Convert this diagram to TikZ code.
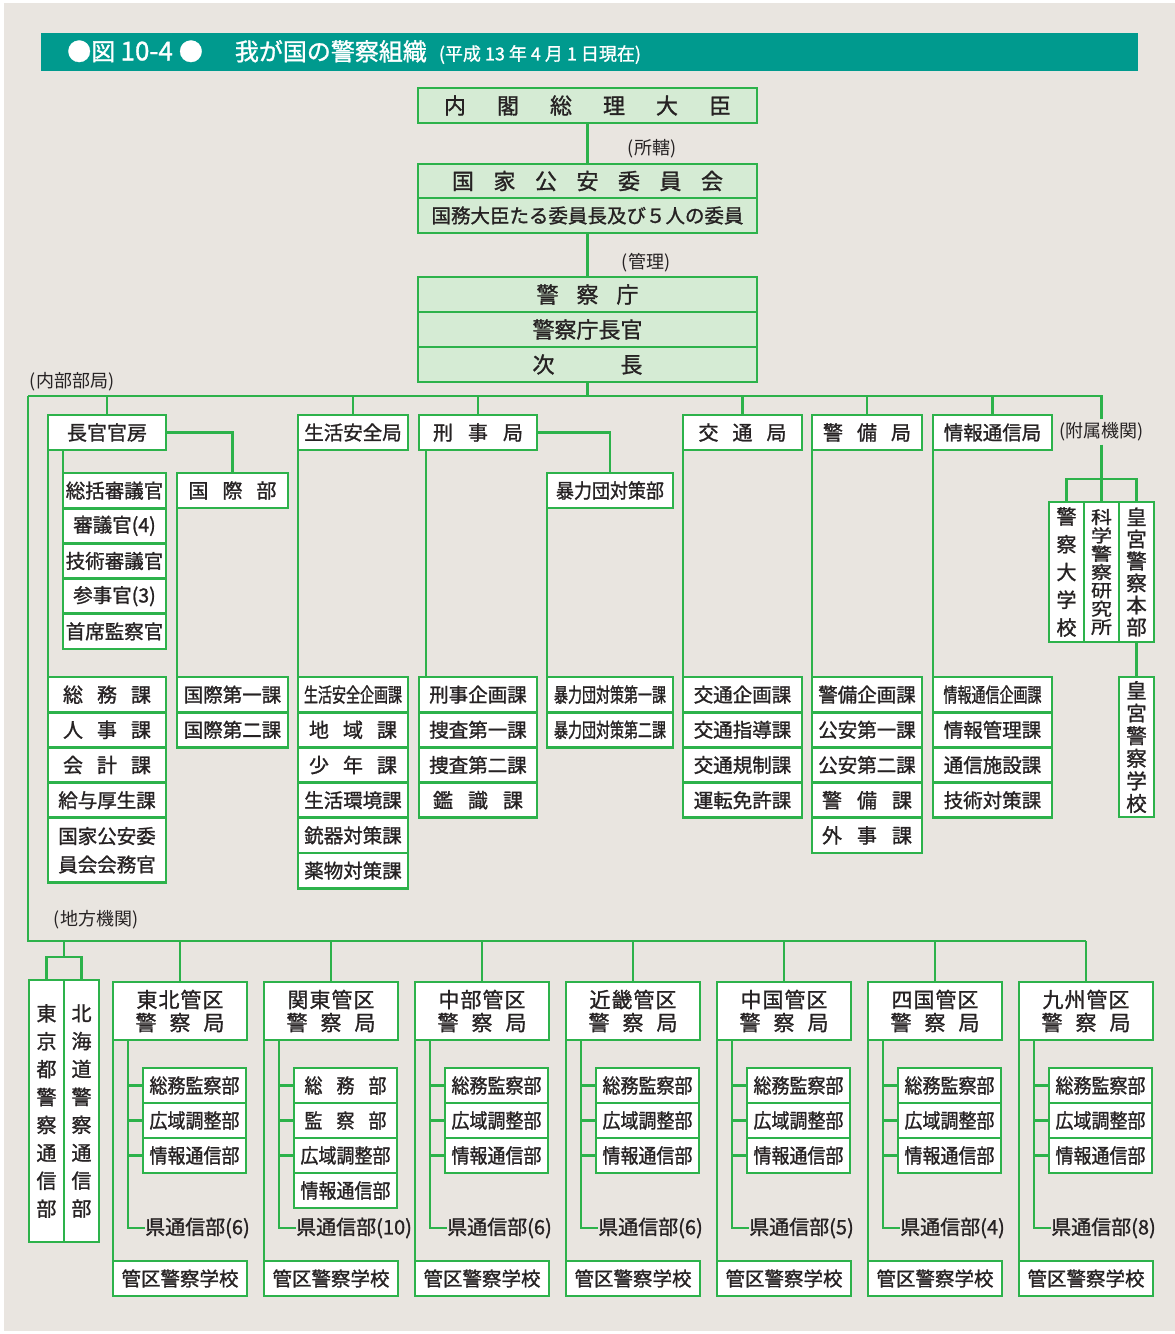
\documentclass[tikz,border=0pt]{standalone}
\usepackage{fontspec}
\usepackage{graphicx}
\newfontfamily\jp[FakeBold=1.2]{Noto Sans CJK JP}
\newfontfamily\jpcd[FakeStretch=0.7,FakeBold=1.2]{Noto Sans CJK JP}
\newfontfamily\jpnw[FakeStretch=0.9,FakeBold=1.2]{Noto Sans CJK JP}
\newfontfamily\jpwd[FakeStretch=1.2,FakeBold=1.2]{Noto Sans CJK JP}
\newfontfamily\jpl{Noto Sans CJK JP}
\definecolor{bg}{HTML}{E9E5E0}
\definecolor{lgreen}{HTML}{2DB24B}
\definecolor{pgreen}{HTML}{D5EBD4}
\definecolor{teal2}{HTML}{009A8E}
\definecolor{tx}{HTML}{262223}
\newcommand\kk[1]{\kern#1pt\relax}
\newcommand\zfA{\jp\fontsize{20}{22}\selectfont}
\newcommand\zfB{\jp\fontsize{22}{24}\selectfont}
\newcommand\zfN{\jp\fontsize{19.5}{22}\selectfont}
\newcommand\zfC{\jpcd\fontsize{20}{22}\selectfont}
\newcommand\zfW{\jpnw\fontsize{20}{22}\selectfont}
\newcommand\zfL{\jpl\fontsize{18}{20}\selectfont}
\newcommand\zfV[3]{#1\fontsize{#2}{#3}\selectfont\lineskiplimit=-100pt\relax}
\newcommand\region[5]{%
  \node[box, sz={134}{58}, font=\zfV{\jp}{21}{23}] (#1) at (#2,982) {#3};
  \foreach \s [count=\i] in {#4} {\node[box, sz={103}{35}, font=\zfW] (#1s\i) at ({#2+30},{1068+35*(\i-1)}) {\s};}
  \coordinate (#1i) at ([xshift=15pt]#1.south west);
  \node[text=tx, font=\zfA, anchor=west, inner sep=0pt] (#1p) at ({#2+32},1228) {#5};
  \draw[ln] (#1i) |- (#1p.west);
  \foreach \i in {1,2,3} {\draw[ln] (#1s\i.west) -- (#1s\i.west -| #1i);}
  \node[box, sz={134}{35}, font=\zfN] (#1k) at (#2,1261) {管区警察学校};
  \draw[ln] (#1.south west) -- (#1k.north west);
  \draw[ln] (#1.north) -- (#1.north |- rbus);
}
\begin{document}
\begin{tikzpicture}[x=1pt,y=-1pt,
  ln/.style={draw=lgreen, line width=2.8pt},
  sz/.style 2 args={minimum width=#1pt, minimum height=#2pt},
  box/.style={draw=lgreen, line width=2.8pt, fill=white, inner sep=0pt, outer sep=0pt, anchor=north west, text=tx, font=\zfA, align=center},
  gbox/.style={box, fill=pgreen, font=\zfB},
  lab/.style={text=tx, font=\zfL, inner sep=3pt},
]
\useasboundingbox (0,0) rectangle (1175,1334);
\fill[white] (0,0) rectangle (1175,1334);
\fill[bg] (4,3) rectangle (1175,1331);

% title
\node[fill=teal2, sz={1097}{38}, anchor=north west, inner sep=0pt] (bar) at (41,33) {};
\node[anchor=west, text=white, inner sep=0pt, font=\jp\fontsize{24}{26}\selectfont] (title) at (67,52) {●図 {\fontsize{26}{28}\selectfont 10-4}\kk{6}●\kk{32}我が国の警察組織\kk{12}{\fontsize{18}{20}\selectfont (平成\kk{4}13\kk{4}年\kk{4}4\kk{4}月\kk{4}1\kk{4}日現在)}};

% top
\node[gbox, sz={339}{35}] (pm) at (418,88) {内\kk{31}閣\kk{31}総\kk{31}理\kk{31}大\kk{31}臣};
\node[gbox, sz={339}{34}] (npsc) at (418,164) {国\kk{19.5}家\kk{19.5}公\kk{19.5}安\kk{19.5}委\kk{19.5}員\kk{19.5}会};
\node[gbox, sz={339}{35}, font=\zfN] (npsc2) at (418,198) {国務大臣たる委員長及び５人の委員};
\draw[ln] (pm.south) -- (npsc.north);
\node[lab] (shokatsu) at (652,149) {(所轄)};
\node[gbox, sz={339}{35}] (npa) at (418,277) {警\kk{18}察\kk{18}庁};
\node[gbox, sz={339}{35}] (npa2) at (418,312) {警察庁長官};
\node[gbox, sz={339}{35}] (npa3) at (418,347) {次\kk{66}長};
\draw[ln] (npsc2.south) -- (npa.north);
\node[lab] (kanri) at (646,263) {(管理)};

% internal bus
\coordinate (busL) at (28,396);
\coordinate (rbus) at (0,941);
\node[lab] (naibu) at (72,382) {(内部部局)};
\draw[ln] (npa3.south) -- (npa3.south |- busL);

% bureaus
\node[box, sz={118}{35}] (cab) at (48,415) {長官官房};
\node[box, sz={110}{35}, font=\zfN] (seian) at (298,415) {生活安全局};
\node[box, sz={118}{35}] (keiji) at (419,415) {刑\kk{15}事\kk{15}局};
\node[box, sz={119}{35}] (kotsu) at (683,415) {交\kk{14}通\kk{14}局};
\node[box, sz={110}{35}] (keibi) at (812,415) {警\kk{14}備\kk{14}局};
\node[box, sz={119}{35}, font=\zfN] (joho) at (933,415) {情報通信局};
\node[lab] (fuzoku) at (1101.5,432) {(附属機関)};

\draw[ln] (busL) -- (busL -| fuzoku.north) -- (fuzoku.north);
\foreach \b in {cab,seian,keiji,kotsu,keibi,joho} {\draw[ln] (\b.north) -- (\b.north |- busL);}

% cabinet secretariat
\node[box, sz={103}{35.2}, font=\zfN] (sg1) at (63,473) {総括審議官};
\node[box, sz={103}{35.2}, font=\zfN] (sg2) at (63,508.2) {審議官(4)};
\node[box, sz={103}{35.2}, font=\zfN] (sg3) at (63,543.4) {技術審議官};
\node[box, sz={103}{35.2}, font=\zfN] (sg4) at (63,578.6) {参事官(3)};
\node[box, sz={103}{35.2}, font=\zfN] (sg5) at (63,613.8) {首席監察官};
\draw[ln] (sg1.north west) -- (sg1.north west |- cab.south);
\node[box, sz={111}{35}] (kokusai) at (177,473) {国\kk{14}際\kk{14}部};
\draw[ln] (cab.east) -| (kokusai.north);

\node[box, sz={118}{35.2}] (ka1) at (48,677) {総\kk{14}務\kk{14}課};
\node[box, sz={118}{35.2}] (ka2) at (48,712.2) {人\kk{14}事\kk{14}課};
\node[box, sz={118}{35.2}] (ka3) at (48,747.4) {会\kk{14}計\kk{14}課};
\node[box, sz={118}{35.2}, font=\zfN] (ka4) at (48,782.6) {給与厚生課};
\node[box, sz={118}{65}, font=\zfV{\jp}{19.5}{28.5}] (ka5) at (48,817.8) {国家公安委\\員会会務官};
\draw[ln] (cab.south west) -- (ka1.north west);

\node[box, sz={111}{35.2}, font=\zfN] (ks1) at (177,677) {国際第一課};
\node[box, sz={111}{35.2}, font=\zfN] (ks2) at (177,712.2) {国際第二課};
\draw[ln] (kokusai.south west) -- (ks1.north west);

% seian
\node[box, sz={110}{35.2}, font=\zfC] (sa1) at (298,677) {生活安全企画課};
\node[box, sz={110}{35.2}] (sa2) at (298,712.2) {地\kk{14}域\kk{14}課};
\node[box, sz={110}{35.2}] (sa3) at (298,747.4) {少\kk{14}年\kk{14}課};
\node[box, sz={110}{35.2}, font=\zfN] (sa4) at (298,782.6) {生活環境課};
\node[box, sz={110}{35.2}, font=\zfN] (sa5) at (298,817.8) {銃器対策課};
\node[box, sz={110}{35.2}, font=\zfN] (sa6) at (298,853) {薬物対策課};
\draw[ln] (seian.south west) -- (sa1.north west);

% keiji
\node[box, sz={118}{35.2}, font=\zfN] (kj1) at (419,677) {刑事企画課};
\node[box, sz={118}{35.2}, font=\zfN] (kj2) at (419,712.2) {捜査第一課};
\node[box, sz={118}{35.2}, font=\zfN] (kj3) at (419,747.4) {捜査第二課};
\node[box, sz={118}{35.2}] (kj4) at (419,782.6) {鑑\kk{15}識\kk{15}課};
\draw[ln] ([xshift=7pt]keiji.south west) -- ([xshift=7pt]kj1.north west);
\node[box, sz={126}{35}, font=\zfW] (bodan) at (547,473) {暴力団対策部};
\draw[ln] (keiji.east) -| (bodan.north);
\node[box, sz={126}{35.2}, font=\zfC] (bd1) at (547,677) {暴力団対策第一課};
\node[box, sz={126}{35.2}, font=\zfC] (bd2) at (547,712.2) {暴力団対策第二課};
\draw[ln] (bodan.south west) -- (bd1.north west);

% kotsu
\node[box, sz={119}{35.2}, font=\zfN] (kt1) at (683,677) {交通企画課};
\node[box, sz={119}{35.2}, font=\zfN] (kt2) at (683,712.2) {交通指導課};
\node[box, sz={119}{35.2}, font=\zfN] (kt3) at (683,747.4) {交通規制課};
\node[box, sz={119}{35.2}, font=\zfN] (kt4) at (683,782.6) {運転免許課};
\draw[ln] (kotsu.south west) -- (kt1.north west);

% keibi
\node[box, sz={110}{35.2}, font=\zfN] (kb1) at (812,677) {警備企画課};
\node[box, sz={110}{35.2}, font=\zfN] (kb2) at (812,712.2) {公安第一課};
\node[box, sz={110}{35.2}, font=\zfN] (kb3) at (812,747.4) {公安第二課};
\node[box, sz={110}{35.2}] (kb4) at (812,782.6) {警\kk{15}備\kk{15}課};
\node[box, sz={110}{35.2}] (kb5) at (812,817.8) {外\kk{15}事\kk{15}課};
\draw[ln] (keibi.south west) -- (kb1.north west);

% joho
\node[box, sz={119}{35.2}, font=\zfC] (jh1) at (933,677) {情報通信企画課};
\node[box, sz={119}{35.2}, font=\zfN] (jh2) at (933,712.2) {情報管理課};
\node[box, sz={119}{35.2}, font=\zfN] (jh3) at (933,747.4) {通信施設課};
\node[box, sz={119}{35.2}, font=\zfN] (jh4) at (933,782.6) {技術対策課};
\draw[ln] (joho.south west) -- (jh1.north west);

% attached organisations
\coordinate (fzy) at (0,479);
\node[box, sz={35}{140}, font=\zfV{\jp}{20}{27.75}] (keidai) at (1049,502) {警\\察\\大\\学\\校};
\node[box, sz={35}{140}, font=\zfV{\jpwd}{17.5}{18.3}] (kaken) at (1084,502) {科\\学\\警\\察\\研\\究\\所};
\node[box, sz={35}{140}, font=\zfV{\jp}{20.5}{22}] (kohgu) at (1119,502) {皇\\宮\\警\\察\\本\\部};
\node[box, sz={35}{140}, font=\zfV{\jp}{20.5}{22.6}] (kgschool) at (1119,677) {皇\\宮\\警\\察\\学\\校};
\draw[ln] (fuzoku.south) -- (fuzoku.south |- fzy);
\draw[ln] (keidai.north) |- (kohgu.north |- fzy) -- (kohgu.north);
\draw[ln] (kaken.north) -- (kaken.north |- fzy);
\draw[ln] (kohgu.south) -- (kgschool.north);

% regional
\node[lab] (chiho) at (96,920) {(地方機関)};
\node[box, sz={35}{262}, font=\zfV{\jp}{20}{27.9}] (tokyo) at (29,980) {東\\京\\都\\警\\察\\通\\信\\部};
\node[box, sz={35}{262}, font=\zfV{\jp}{20}{27.9}] (hokkaido) at (64,980) {北\\海\\道\\警\\察\\通\\信\\部};
\coordinate (tky) at (0,957);
\draw[ln] (tokyo.north) |- (hokkaido.north |- tky) -- (hokkaido.north);
\draw[ln] (tokyo.north east |- tky) -- (tokyo.north east |- rbus);

\region{tohoku}{113}{東\kk{1}北\kk{1}管\kk{1}区\\警\kk{13}察\kk{13}局}{総務監察部,広域調整部,情報通信部}{県通信部(6)}
\region{kanto}{264}{関\kk{1}東\kk{1}管\kk{1}区\\警\kk{13}察\kk{13}局}{総\kk{14}務\kk{14}部,監\kk{14}察\kk{14}部,広域調整部,情報通信部}{県通信部(10)}
\region{chubu}{415}{中\kk{1}部\kk{1}管\kk{1}区\\警\kk{13}察\kk{13}局}{総務監察部,広域調整部,情報通信部}{県通信部(6)}
\region{kinki}{566}{近\kk{1}畿\kk{1}管\kk{1}区\\警\kk{13}察\kk{13}局}{総務監察部,広域調整部,情報通信部}{県通信部(6)}
\region{chugoku}{717}{中\kk{1}国\kk{1}管\kk{1}区\\警\kk{13}察\kk{13}局}{総務監察部,広域調整部,情報通信部}{県通信部(5)}
\region{shikoku}{868}{四\kk{1}国\kk{1}管\kk{1}区\\警\kk{13}察\kk{13}局}{総務監察部,広域調整部,情報通信部}{県通信部(4)}
\region{kyushu}{1019}{九\kk{1}州\kk{1}管\kk{1}区\\警\kk{13}察\kk{13}局}{総務監察部,広域調整部,情報通信部}{県通信部(8)}

\draw[ln] (busL) -- (busL |- rbus) -- (kyushu.north |- rbus);
\end{tikzpicture}
\end{document}
